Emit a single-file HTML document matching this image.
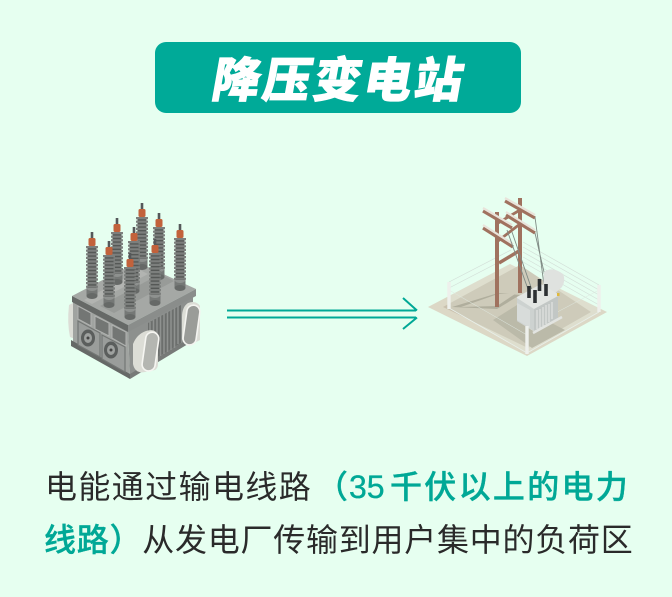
<!DOCTYPE html>
<html><head><meta charset="utf-8"><style>
html,body{margin:0;padding:0;background:#e6fff0}
body{width:672px;height:597px;overflow:hidden;position:relative}
svg{position:absolute;left:0;top:0}
.t{position:absolute;white-space:nowrap;font-family:"Liberation Sans","Noto Sans CJK SC",sans-serif;font-size:32px;letter-spacing:.75px;line-height:40px;color:#2a2a2a;font-weight:400}
.g{color:#00a896;font-weight:500;-webkit-text-stroke:.35px #00a896}
.h{position:absolute;left:155px;top:42px;width:366px;height:71px;background:#00aa98;border-radius:11px}
.h span{position:absolute;left:57px;top:0;width:256px;line-height:69px;text-align:center;white-space:nowrap;color:#fff;font-family:"Noto Sans CJK SC",sans-serif;font-weight:900;font-size:48px;letter-spacing:2.5px;transform:skewX(-10deg);-webkit-text-stroke:.8px #fff}
</style></head><body>
<div class="h"><span>降压变电站</span></div>
<svg width="672" height="597" viewBox="0 0 672 597">
<defs>
<g id="ins">
<rect x="-5.500" y="56" width="11" height="8" fill="#757876"/>
<ellipse cx="0" cy="64" rx="5.500" ry="3" fill="#666967"/>
<ellipse cx="0" cy="56" rx="5.500" ry="3" fill="#8e918f"/>
<line x1="0" y1="14" x2="0" y2="56" stroke="#555856" stroke-width="9"/>
<line x1="0" y1="14" x2="0" y2="56" stroke="#7c7f7d" stroke-width="12" stroke-dasharray="2.200 1.400"/>
<rect x="-1.300" y="0" width="2.600" height="8" fill="#55585a"/>
<rect x="-3.500" y="6" width="7" height="8" rx="1.500" fill="#c2623b"/>
</g>
</defs>
<!-- transformer body -->
<path d="M69 305 q-2 18 1 32 l5 2 V302Z" fill="#dcddd6"/>
<path d="M73 300 L128 330 L130 378 L73 343Z" fill="#a0a3a0"/>
<path d="M128 330 L193 295 L193 340 L130 378Z" fill="#8d908e"/>
<path d="M71 340 L130 374 L130 379 L71 346Z" fill="#666967"/>
<path d="M130 374 L193 336 L193 341 L130 379Z" fill="#777a78"/>
<!-- panels -->
<path d="M78 306 L91 313 L91 326 L78 319Z M95 316 L109 323 L109 336 L95 329Z M112 325 L126 332 L126 346 L112 338Z" fill="#737674" stroke="#b0b2b0" stroke-width="1"/>
<path d="M78 321 L100 333 L100 357 L78 345Z M102 335 L125 347 L125 372 L102 359Z" fill="#9a9d9b" stroke="#737674" stroke-width="1.200"/>
<ellipse cx="88" cy="338" rx="7" ry="8.500" fill="#5b5e5d"/><ellipse cx="88" cy="338" rx="4" ry="5" fill="#9ea19f"/><circle cx="88" cy="338" r="1.500" fill="#444"/>
<ellipse cx="111" cy="350" rx="7" ry="8.500" fill="#5b5e5d"/><ellipse cx="111" cy="350" rx="4" ry="5" fill="#9ea19f"/><circle cx="111" cy="350" r="1.500" fill="#444"/>
<!-- ribs -->
<path d="M148 323 L181 305 L181 343 L148 363Z" fill="#6c6f6d"/>
<path d="M150 322v40M153.500 320v40M157 318v40M160.500 316v40M164 314v40M167.500 312v40M171 310v40M174.500 308v40M178 306v38" stroke="#8f9290" stroke-width="1.500"/>
<!-- plate -->
<path d="M72 296 L137 262 L196 289 L128 325Z" fill="#a5a8a5"/>
<path d="M100 306 L160 274 L174 281 L114 313Z" fill="#989b98"/>
<path d="M84 300 L140 270 L148 274 L92 304Z" fill="#b2b4b1"/>
<path d="M72 296 L128 325 L128 332 L72 302Z" fill="#666967"/>
<path d="M128 325 L196 289 L196 296 L128 332Z" fill="#8a8d8b"/>
<use href="#ins" x="142" y="203"/>
<use href="#ins" x="159" y="213"/>
<use href="#ins" x="117" y="218"/>
<use href="#ins" x="180" y="224"/>
<use href="#ins" x="134" y="227"/>
<use href="#ins" x="92" y="232"/>
<use href="#ins" x="109" y="241"/>
<use href="#ins" x="155" y="239"/>
<use href="#ins" x="130" y="253"/>
<!-- rings -->
<path d="M188 303 q-6 4 -6 14 l0 22 q2 8 10 5 l8 -4 V306 q-4 -6 -12 -3Z" fill="#dcddd6"/>
<rect x="185" y="305" width="13" height="40" rx="6.500" fill="#9a9c98" stroke="#f4f4f0" stroke-width="1.600" transform="rotate(8 191 325)"/>
<path d="M146 331 q-9 3 -13 13 l0 20 q2 10 12 8 l10 -2 q3 -2 3 -6 V336 q-2 -8 -12 -5Z" fill="#dcddd6"/>
<rect x="144" y="332" width="13" height="39" rx="6.500" fill="#b4b6b1" stroke="#f6f6f2" stroke-width="1.600" transform="rotate(8 150 351)"/>

<!-- arrow -->
<path d="M227 310.500H416M227 317.500H416" stroke="#00a896" stroke-width="2" fill="none"/>
<path d="M403 298 L417 310.500 M417 317.500 L403 329" stroke="#00a896" stroke-width="2" fill="none"/>

<!-- substation ground -->
<path d="M428 307 L510 264 L607 312 L527 356Z" fill="#dcd8c6"/>
<path d="M443 307 L520 265 L591 312 L528 348Z" fill="#c9c0ad"/>
<path d="M452 307 L497 309 L520 295 L498 293 Z" fill="#a39c89"/>
<path d="M461 307 L497 306 L515 294 L498 294Z" fill="#c9c0ad"/>
<path d="M493 320 L517 305 L565 330 L532 348Z" fill="#b1aa98"/>
<!-- fence back -->
<path d="M449 282 L520 243 L599 285 L599 312 L527 353 L449 308Z" fill="#e6f8ee" fill-opacity=".2"/>
<path d="M449 282 L511 250 M449 288 L511 256 M523 242 L599 285 M523 247 L599 290 M523 252 L599 295 M523 257 L599 300 M523 262 L599 305" stroke="#d3dfd8" stroke-width=".7" fill="none"/>
<path d="M527 328 L599 290 M449 290 L527 335" stroke="#dfe8e0" stroke-width=".5" fill="none"/>
<!-- poles -->
<g fill="none" stroke="#a0725f" stroke-width="3.600">
<path d="M520 198V293" stroke-width="4"/>
<path d="M497 212V307" stroke-width="4"/>
<path d="M499 263L519 251" stroke-width="3.400"/>
<path d="M498 241L520 224" stroke-width="2.800"/>
<path d="M498 223L520 210" stroke-width="2.800"/>
<path d="M483 211L512 228" stroke-width="3.200"/>
<path d="M483 228L513 247" stroke-width="3.200"/>
<path d="M505 201L535 218" stroke-width="3.200"/>
<path d="M506 215L535 233" stroke-width="3.200"/>
</g>
<path d="M483 208L512 225M483 225L513 244M505 198L535 215M506 212L535 230" stroke="#e9e3da" stroke-width="2.200" fill="none"/>
<path d="M535 217L544 285M512 232L532 290M535 233L547 285M507 230L529 292" stroke="#7f8a84" stroke-width=".9" fill="none"/>
<!-- transformer -->
<path d="M544 272 Q552 266 563 274 Q566 280 562 287 L552 296 L543 292Z" fill="#dfe2df"/>
<path d="M517 297 L541 284 L558 294 L558 318 L535 332 L517 321Z" fill="#e3e6e3"/>
<path d="M517 298 L534 309 L534 331 L517 321Z" fill="#cdd2d0"/>
<path d="M534 309 L558 296 L558 318 L534 331Z" fill="#c2c7c5"/>
<path d="M517 303 L530 310 L530 328 L517 320Z" fill="#d8dcda"/>
<path d="M537 310v19M540 309v19M543 307v19M546 305v19M549 304v18M552 302v17" stroke="#e8eae8" stroke-width="1"/>
<path d="M533 333 L562 317" stroke="#e2e4e1" stroke-width="2.500"/>
<path d="M529 286v12M535 290v13M539.500 279v12M546 284v12" stroke="#2d3133" stroke-width="3.600"/>
<rect x="557" y="293" width="2.500" height="3" fill="#e0b93a"/>
<!-- front fence -->
<path d="M449 308 L527 353 L599 312" fill="none" stroke="#e8efe9" stroke-width=".8"/>
<path d="M449 282V309M599 285V312M527 326V354" stroke="#eef0ec" stroke-width="3.400" fill="none"/>
</svg>
<div class="t" style="left:45px;top:467px;letter-spacing:1.400px">电能通过输电线路</div>
<div class="t g" style="left:316px;top:467px">（</div>
<div class="t g" style="left:349px;top:467px;letter-spacing:0">35</div>
<div class="t g" style="left:390px;top:467px;letter-spacing:2.300px">千伏以上的电力</div>
<div class="t" style="left:44px;top:520px"><span class="g">线路）</span>从发电厂传输到用户集中的负荷区</div>
</body></html>
